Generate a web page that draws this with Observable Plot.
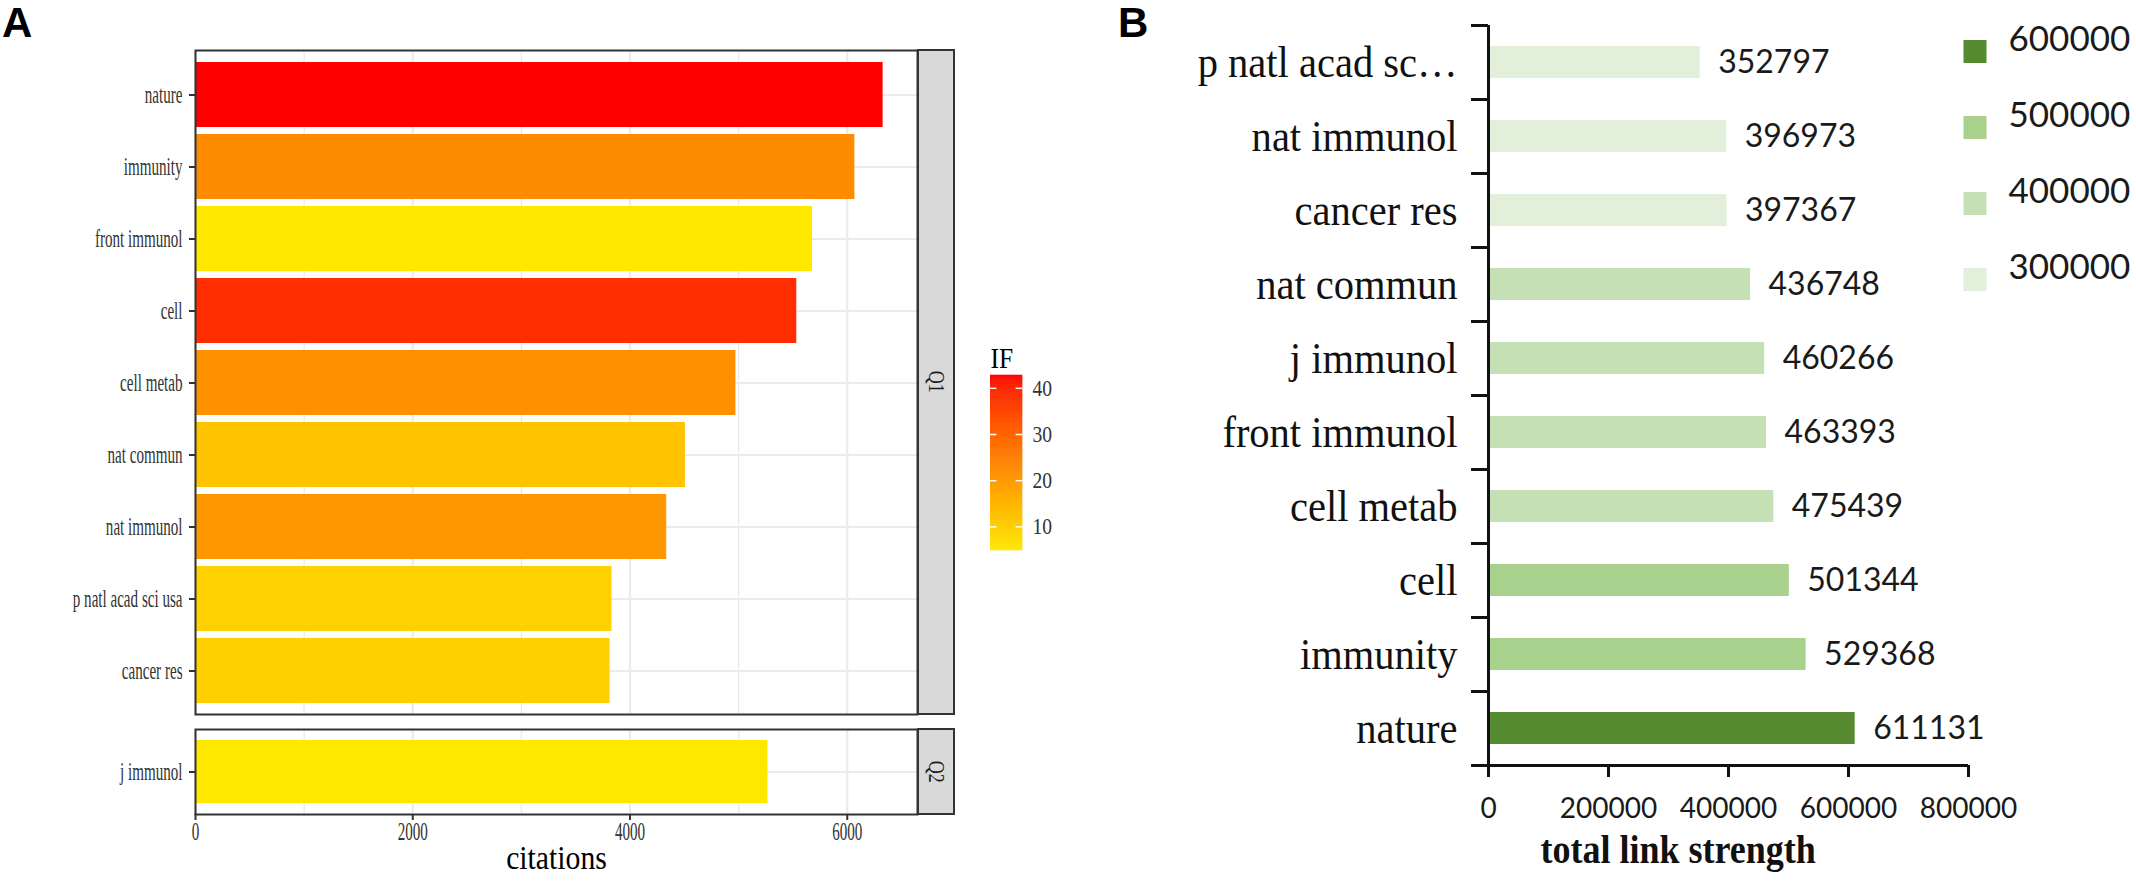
<!DOCTYPE html>
<html><head><meta charset="utf-8">
<script src="https://cdn.jsdelivr.net/npm/d3@7"></script>
<script src="https://cdn.jsdelivr.net/npm/@observablehq/plot@0.6"></script>
<style>
body{margin:0;background:#fff;}
#root{position:relative;width:2136px;height:888px;background:#fff;overflow:hidden;}
#root > *{position:absolute;}
.tag{font-family:"Liberation Sans",Arial,sans-serif;font-weight:bold;font-size:42px;line-height:42px;color:#000;}
.strip{box-sizing:border-box;border:2px solid #333;background:#d9d9d9;display:flex;align-items:center;justify-content:center;}
.strip span{writing-mode:vertical-rl;font-family:"Liberation Serif",serif;font-size:24px;color:#1a1a1a;transform:scaleY(0.75);}
</style></head><body><div id="root"></div>
<script>
// ---------- data: panel A ----------
const journalsA = ["nature","immunity","front immunol","cell","cell metab","nat commun","nat immunol","p natl acad sci usa","cancer res","j immunol"];
const citationsA = [6330,6070,5680,5535,4975,4510,4338,3834,3816,5270];
const impactA = [42.778,22.553,5.085,38.637,21.567,12.121,20.479,9.412,9.727,4.886];
const quartileA = ["Q1","Q1","Q1","Q1","Q1","Q1","Q1","Q1","Q1","Q2"];
const quartiles = ["Q1","Q2"];
const citationTicks = [0,2000,4000,6000];
const citationMinor = [1000,3000,5000];
const ifTicks = [10,20,30,40];

// ---------- data: panel B ----------
const journalsB = ["p natl acad sc…","nat immunol","cancer res","nat commun","j immunol","front immunol","cell metab","cell","immunity","nature"];
const strengthB = [352797,396973,397367,436748,460266,463393,475439,501344,529368,611131];
const strengthTicks = [0,200000,400000,600000,800000];
const legendKeysB = [600000,500000,400000,300000];
const greenThresholds = [400000,500000,600000];
const greenColors = ["#e2efda","#c5e0b4","#a9d18e","#558a30"];

const root = document.getElementById("root");
function place(el, left, top){ el.style.left = left + "px"; el.style.top = top + "px"; root.appendChild(el); return el; }
function condense(svg, factor, test){
  svg.querySelectorAll("text").forEach(t => {
    if (test && !test(t)) return;
    const L = t.getComputedTextLength();
    if (L > 0){ t.setAttribute("textLength", (L*factor).toFixed(2)); t.setAttribute("lengthAdjust","spacingAndGlyphs"); }
  });
}

// ---------- panel A ----------
const rowsA = journalsA.map((j,i)=>({journal:j, citations:citationsA[i], IF:impactA[i], q:quartileA[i]}));
const xMaxA = d3.max(citationsA)*1.05;
const ifExtent = d3.extent(impactA);
function mix(a,b){
  const r = d3.interpolateRgb(a,b), l = d3.interpolateLab(a,b);
  return t => { const c1 = d3.rgb(r(t)), c2 = d3.rgb(l(t)); return d3.rgb((c1.r+c2.r)/2,(c1.g+c2.g)/2,(c1.b+c2.b)/2).formatHex(); };
}
const colorA = () => ({type:"linear", domain: ifExtent, range:["#ffe800","#ff0000"], interpolate: mix});
const styleA = {background:"transparent", fontFamily:"Liberation Serif, serif", fontSize:"26px", color:"#333"};

function panelA(rows, frameH, withAxis){
  const mb = withAxis ? 74 : 2;
  return Plot.plot({
    width: 919, height: 2 + frameH + mb,
    marginLeft: 195, marginRight: 2, marginTop: 2, marginBottom: mb,
    style: styleA,
    x: {domain:[0, xMaxA], axis:null},
    y: {domain: rows.map(d=>d.journal), paddingInner:0.1, paddingOuter:0.15, axis:null},
    color: colorA(),
    marks: [
      Plot.gridX(citationMinor, {stroke:"#ebebeb", strokeOpacity:1, strokeWidth:1.3}),
      Plot.gridX(citationTicks, {stroke:"#ebebeb", strokeOpacity:1, strokeWidth:2.2}),
      Plot.gridY({stroke:"#ebebeb", strokeOpacity:1, strokeWidth:2.2}),
      Plot.barX(rows, {y:"journal", x:"citations", fill:"IF"}),
      Plot.frame({stroke:"#333", strokeWidth:2}),
      Plot.axisY({tickSize:6, tickPadding:7, stroke:"#333", strokeWidth:2, label:null, fontSize:26}),
      withAxis ? Plot.axisX({ticks:citationTicks, tickSize:6, tickPadding:1, stroke:"#333", strokeWidth:2, label:null, fontSize:26, tickFormat:d3.format("d")}) : null,
      withAxis ? Plot.text(["citations"], {frameAnchor:"bottom", dy:54, fontSize:33, fill:"#000"}) : null
    ]
  });
}
const q1 = place(panelA(rowsA.filter(d=>d.q===quartiles[0]), 664, false), 0, 48);
const q2 = place(panelA(rowsA.filter(d=>d.q===quartiles[1]), 85, true), 0, 727);

function strip(label, top, h){
  const d = document.createElement("div"); d.className = "strip";
  d.style.width = "38px"; d.style.height = h + "px";
  const s = document.createElement("span"); s.textContent = label; d.appendChild(s);
  return place(d, 917, top);
}
strip(quartiles[0], 49, 666);
strip(quartiles[1], 728, 87);

// colour bar legend (IF)
const rampN = 90;
const ramp = d3.range(rampN).map(i => {
  const lo = ifExtent[0] + (ifExtent[1]-ifExtent[0])*i/rampN;
  const hi = ifExtent[0] + (ifExtent[1]-ifExtent[0])*(i+1)/rampN;
  return {lo, hi, mid:(lo+hi)/2};
});
const cbar = place(Plot.plot({
  width:110, height:215, marginTop:35, marginBottom:5, marginLeft:0, marginRight:78,
  style: styleA,
  x:{domain:[0,1], axis:null}, y:{domain:ifExtent, axis:null},
  color: colorA(),
  marks:[
    Plot.rect(ramp, {x1:0, x2:1, y1:"lo", y2:"hi", fill:"mid", stroke:"mid", strokeWidth:0.6}),
    Plot.ruleY(ifTicks, {x1:0, x2:0.2, stroke:"#fff", strokeWidth:1.5}),
    Plot.ruleY(ifTicks, {x1:0.8, x2:1, stroke:"#fff", strokeWidth:1.5}),
    Plot.axisY({anchor:"right", ticks:ifTicks, tickSize:0, tickPadding:10, label:null, fontSize:23}),
    Plot.text(["IF"], {frameAnchor:"top-left", lineAnchor:"bottom", dy:-8, textAnchor:"start", fontSize:30, fill:"#000"})
  ]
}), 990, 340);

// ---------- panel B ----------
const rowsB = journalsB.map((j,i)=>({journal:j, strength:strengthB[i]}));
const colorB = () => ({type:"threshold", domain: greenThresholds, range: greenColors});
const dimsB = {width:1076, height:888, marginLeft:428, marginRight:168, marginTop:25, marginBottom:123};
const serif = "Liberation Serif, serif";

const bMain = place(Plot.plot({
  ...dimsB,
  style:{background:"transparent", fontFamily:"Lato, sans-serif", color:"#111"},
  x:{domain:[0,800000], axis:null},
  y:{domain:journalsB, paddingInner:0.57, paddingOuter:0.285, axis:null},
  color: colorB(),
  marks:[
    Plot.barX(rowsB, {y:"journal", x:"strength", fill:"strength"}),
    Plot.text(rowsB, {y:"journal", x:"strength", text:d=>String(d.strength), dx:18, textAnchor:"start", fontSize:32, fill:"#1a1a1a"}),
    Plot.axisY({tickSize:0, tickPadding:31, fontSize:45, fontFamily:serif, fill:"#111", label:null}),
    Plot.axisX({ticks:strengthTicks, tickSize:12, strokeWidth:3, stroke:"#111", tickPadding:21, tickFormat:d3.format("d"), fontSize:28, fill:"#1a1a1a", label:null}),
    Plot.text(["total link strength"], {frameAnchor:"bottom-left", dx:52, dy:97, textAnchor:"start", fontSize:40, fontWeight:"bold", fontFamily:serif, fill:"#111"})
  ]
}), 1060, 0);

const nB = journalsB.length;
place(Plot.plot({
  ...dimsB,
  style:{background:"transparent"},
  x:{domain:[0,800000], axis:null},
  y:{domain:[0,nB], axis:null},
  marks:[
    Plot.ruleX([0], {y1:0, y2:nB, stroke:"#111", strokeWidth:3}),
    Plot.ruleY([0], {x1:0, x2:800000, stroke:"#111", strokeWidth:3}),
    Plot.axisY({ticks:d3.range(nB+1), tickSize:17, tickFormat:()=>"", stroke:"#111", strokeWidth:3, label:null})
  ]
}), 1060, 0);

// legend B
place(Plot.plot({
  width:196, height:300, marginTop:50, marginBottom:20, marginLeft:0, marginRight:0,
  style:{background:"transparent", fontFamily:"Lato, sans-serif"},
  y:{domain:legendKeysB, padding:0, axis:null},
  color: colorB(),
  marks:[
    Plot.dot(legendKeysB, {y:d=>d, fill:d=>d, symbol:"square", r:12.98, frameAnchor:"left", dx:34.5}),
    Plot.text(legendKeysB, {y:d=>d, text:d=>String(d), frameAnchor:"left", dx:68, dy:-12, textAnchor:"start", fontSize:35, fill:"#1a1a1a"})
  ]
}), 1940, 0);

// panel tags
function tag(t, left){ const d = document.createElement("div"); d.className = "tag"; d.textContent = t; return place(d, left, 2); }
tag("A", 2);
tag("B", 1118);

// condensed lettering as in the reference
[q1, q2].forEach(s => condense(s, 0.58, t => t.textContent !== "citations"));
[q1, q2].forEach(s => condense(s, 0.9, t => t.textContent === "citations"));
condense(cbar, 0.85);
condense(bMain, 0.9, t => getComputedStyle(t).fontFamily.includes("Serif"));
</script></body></html>
